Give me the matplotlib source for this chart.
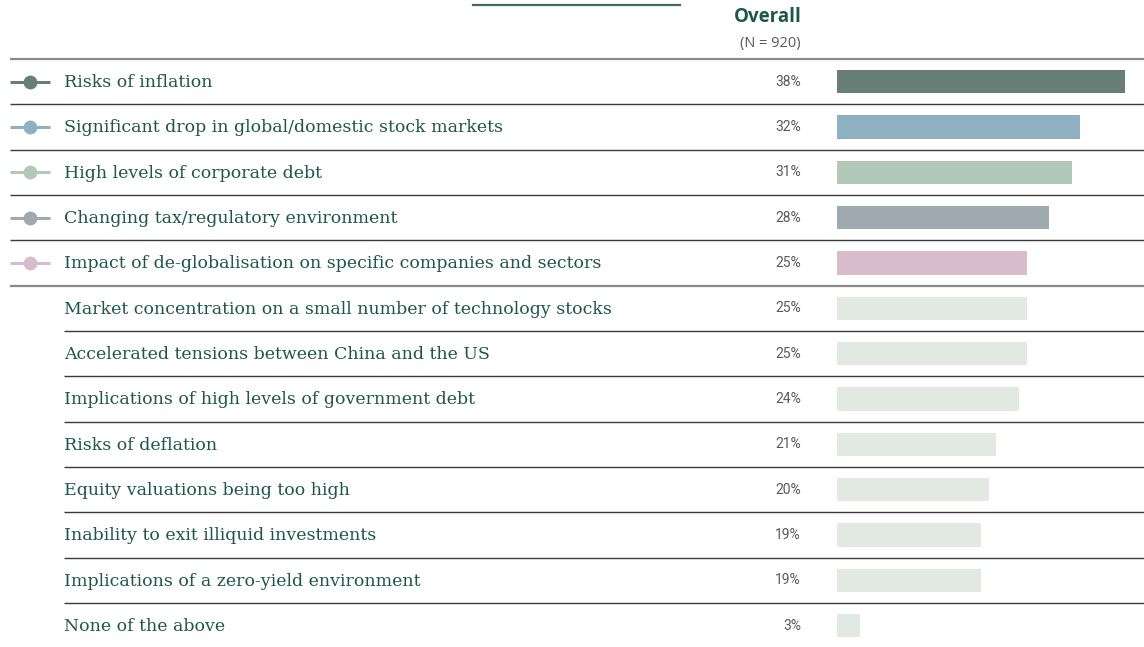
import matplotlib
matplotlib.use("Agg")
import matplotlib.pyplot as plt
import matplotlib.transforms as mtransforms

categories = [
    "Risks of inflation",
    "Significant drop in global/domestic stock markets",
    "High levels of corporate debt",
    "Changing tax/regulatory environment",
    "Impact of de-globalisation on specific companies and sectors",
    "Market concentration on a small number of technology stocks",
    "Accelerated tensions between China and the US",
    "Implications of high levels of government debt",
    "Risks of deflation",
    "Equity valuations being too high",
    "Inability to exit illiquid investments",
    "Implications of a zero-yield environment",
    "None of the above",
]
values = [38, 32, 31, 28, 25, 25, 25, 24, 21, 20, 19, 19, 3]
highlight_colors = ["#687f78", "#8fb0c0", "#b2c9b8", "#9eaab0", "#d8bccb"]
default_color = "#e2e9e3"
column_title = "Overall"
column_sub = "(N = 920)"

W, H = 1144, 647
fig = plt.figure(figsize=(W / 100, H / 100), dpi=100)

# row geometry (in pixels)
top_px = 59.0
row_px = 45.33
n = len(categories)

# main axes covering full figure; y in row units
ax = fig.add_axes([0, 0, 1, 1])
ax.set_xlim(0, 1)
y_top = -0.5 - top_px / row_px
y_bot = y_top + H / row_px
ax.set_ylim(y_bot, y_top)
ax.axis("off")

# bar axes: 0% at px 837, 7.58 px per %
x0_px = 837.0
px_per_pct = 7.58
bax = fig.add_axes([x0_px / W, 0, 1 - x0_px / W, 1])
bax.set_xlim(0, (W - x0_px) / px_per_pct)
bax.set_ylim(y_bot, y_top)
bax.axis("off")

colors = [highlight_colors[i] if i < len(highlight_colors) else default_color
          for i in range(n)]
ypos = list(range(n))
bax.barh(ypos, values, height=0.51, color=colors, left=0)

text_color = "#1e5748"
trans = mtransforms.blended_transform_factory(ax.transAxes, ax.transData)

for i, (cat, v) in enumerate(zip(categories, values)):
    ax.text(64 / W, i + 0.02, cat, transform=trans, ha="left", va="center",
            fontsize=12.5, family="DejaVu Serif", color=text_color)
    ax.text(801 / W, i, f"{v}%", transform=trans, ha="right", va="center",
            fontsize=10, family="Roboto", color="#5a5a5a")
    if i < len(highlight_colors):
        ax.plot([10 / W, 50 / W], [i, i], transform=trans,
                color=highlight_colors[i], lw=2.2, solid_capstyle="butt")
        ax.plot([30 / W], [i], transform=trans, marker="o", ms=10,
                color=highlight_colors[i], mec="none")

# separator lines
for k in range(-1, n - 1):
    yl = k + 0.5
    if k == -1 or k == len(highlight_colors) - 1:
        ax.plot([10 / W, 1], [yl, yl], transform=trans, color="#8a8a8a", lw=1.6,
                solid_capstyle="butt")
    elif k < len(highlight_colors) - 1:
        ax.plot([10 / W, 1], [yl, yl], transform=trans, color="#3a3a3a", lw=1.0,
                solid_capstyle="butt")
    else:
        ax.plot([64 / W, 1], [yl, yl], transform=trans, color="#3a3a3a", lw=1.0,
                solid_capstyle="butt")

# header
fig.text(802 / W, 1 - 17 / H, column_title, ha="right", va="center",
         fontsize=13.5, family="Open Sans", fontweight="bold", color=text_color)
fig.text(801 / W, 1 - 43 / H, column_sub, ha="right", va="center",
         fontsize=10.5, family="Open Sans", color="#5a5a5a")
fig.add_artist(plt.Line2D([473 / W, 680 / W], [1 - 4.5 / H, 1 - 4.5 / H],
                          transform=fig.transFigure, color="#3d6b64", lw=1.6))

fig.savefig("out.png", dpi=100)
